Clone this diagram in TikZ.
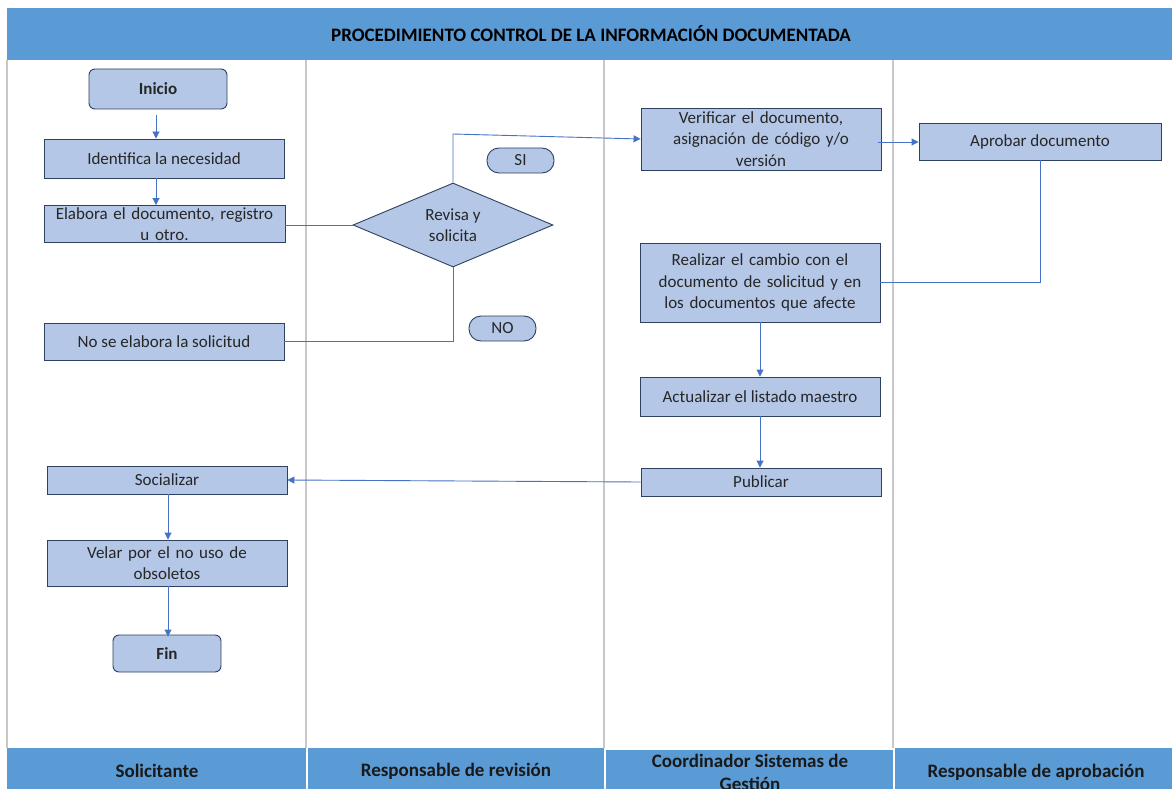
\documentclass[tikz,border=0pt]{standalone}
\usepackage{fontspec}
\setmainfont{Carlito}
\usetikzlibrary{shapes.geometric,arrows.meta}
\definecolor{band}{HTML}{5B9BD5}
\definecolor{boxfill}{HTML}{B4C7E7}
\definecolor{boxline}{HTML}{2F4160}
\definecolor{conn}{HTML}{4472C4}
\definecolor{lane}{HTML}{C8C8C8}
\tikzset{
  procbox/.style={draw=boxline, fill=boxfill, line width=0.9pt, inner sep=1pt, align=center, font=\fontsize{17}{21.5}\selectfont, text=black!85},
  termbox/.style={procbox, rounded corners=6pt, font=\fontsize{17}{21.5}\selectfont\bfseries},
  pill/.style={procbox, rounded corners=12pt},
  decision/.style={procbox, diamond, aspect=2.38, inner sep=0pt},
  flow/.style={draw=conn, line width=0.9pt},
  flowarr/.style={flow, -{Triangle[length=7pt,width=7pt]}},
  lanelabel/.style={font=\fontsize{19}{23}\selectfont\bfseries, align=center, text=black!90},
}
\begin{document}
\begin{tikzpicture}[x=1pt,y=-1pt]
\useasboundingbox (0,0) rectangle (1172,789);
\clip (0,0) rectangle (1172,789);
\fill[white] (0,0) rectangle (1172,789);
% lane lines
\foreach \x in {7,306,604,893} \draw[lane, line width=1.4pt] (\x,60) -- (\x,748);
% title band
\fill[band] (7,8) rectangle (1172,60);
\node[font=\fontsize{19}{22}\selectfont\bfseries, text=black] (title) at (591,34) {PROCEDIMIENTO CONTROL DE LA INFORMACIÓN DOCUMENTADA};
% bottom band
\fill[band] (7,748) rectangle (306,789);
\fill[band] (308,748) rectangle (604,789);
\fill[band] (606,750) rectangle (893,789);
\fill[band] (895,748) rectangle (1172,789);
\node[lanelabel] (l1) at (157,771) {Solicitante};
\node[lanelabel] (l2) at (456,771) {Responsable de revisión};
\node[lanelabel] (l3) at (750,772) {Coordinador Sistemas de\\Gestión};
\node[lanelabel] (l4) at (1036,772) {Responsable de aprobación};
% nodes
\node[termbox, minimum width=138pt, minimum height=40pt] (inicio) at (158,89) {Inicio};
\node[procbox, minimum width=240pt, minimum height=39pt] (ident) at (164,158.5) {Identifica la necesidad};
\node[procbox, minimum width=241pt, minimum height=37pt, text width=236pt] (elab) at (164.5,224) {Elabora el documento, registro\\u otro.};
\node[decision, minimum width=200pt, minimum height=84pt] (dec) at (453,225) {Revisa y\\solicita};
\node[pill, minimum width=67pt, minimum height=25pt] (si) at (520.5,160.5) {SI};
\node[pill, minimum width=67pt, minimum height=25pt] (no) at (502.5,328.5) {NO};
\node[procbox, minimum width=240pt, minimum height=37pt] (noelab) at (164,341.5) {No se elabora la solicitud};
\node[procbox, minimum width=240pt, minimum height=62pt, text width=236pt] (verif) at (761,139) {Verificar el documento,\\asignación de código y/o\\versión};
\node[procbox, minimum width=242pt, minimum height=37pt] (aprob) at (1040,141.5) {Aprobar documento};
\node[procbox, minimum width=240pt, minimum height=79pt, text width=236pt] (real) at (760,282.5) {Realizar el cambio con el\\documento de solicitud y en\\los documentos que afecte};
\node[procbox, minimum width=240pt, minimum height=39pt] (act) at (760,396.5) {Actualizar el listado maestro};
\node[procbox, minimum width=240pt, minimum height=28pt] (pub) at (761,482) {Publicar};
\node[procbox, minimum width=240pt, minimum height=28pt] (soc) at (167,480) {Socializar};
\node[procbox, minimum width=240pt, minimum height=46pt, text width=236pt] (velar) at (167,563) {Velar por el no uso de\\obsoletos};
\node[termbox, minimum width=108pt, minimum height=37pt] (fin) at (167,653.5) {Fin};
% connectors
\coordinate (c1) at (156,115);
\draw[flowarr] (c1) -- (ident.north -| c1);
\draw[flowarr] (ident.south -| c1) -- (elab.north -| c1);
\draw[flow] (elab.east |- dec.west) -- (dec.west);
\coordinate (up) at (453,134);
\draw[flowarr] (dec.north) -- (up) -- (verif.west);
\coordinate (down) at (453,341);
\draw[flow] (dec.south) -- (down) -- (noelab.east |- down);
\coordinate (a1) at (878,142);
\draw[flowarr] (a1) -- (aprob.west |- a1);
\coordinate (r1) at (1040,282);
\draw[flow] (aprob.south) -- (r1) -- (real.east |- r1);
\draw[flowarr] (real.south) -- (act.north);
\draw[flowarr] (act.south) -- (pub.north -| act.south);
\draw[flowarr] (pub.west) -- (soc.east);
\coordinate (s1) at (168,494);
\draw[flowarr] (soc.south -| s1) -- (velar.north -| s1);
\draw[flowarr] (velar.south -| s1) -- ([yshift=-2pt]fin.north -| s1);
\end{tikzpicture}
\end{document}
